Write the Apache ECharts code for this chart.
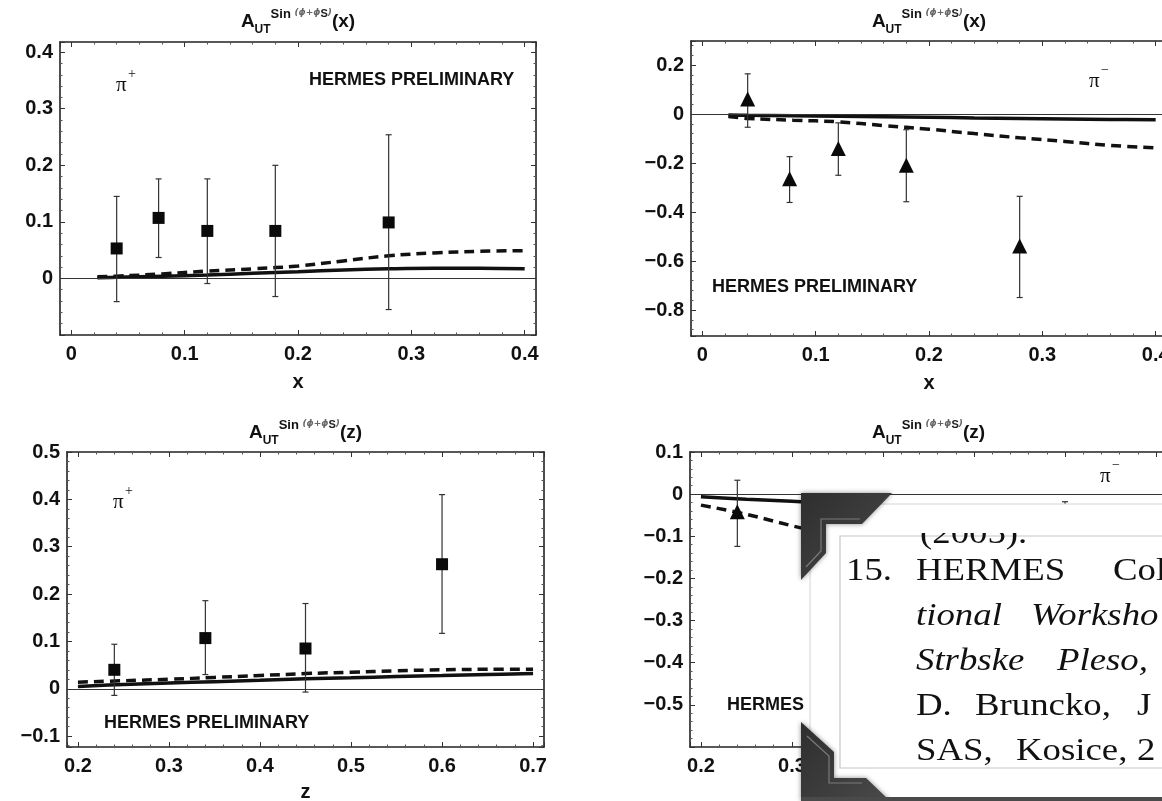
<!DOCTYPE html>
<html>
<head>
<meta charset="utf-8">
<title>A_UT sin(phi+phi_S) - HERMES preliminary</title>
<style>
    html, body { margin: 0; padding: 0; background: #fff; }
    #page { width: 1162px; height: 801px; }
</style>
</head>
<body>
<div id="page"></div>
<script src="https://cdn.jsdelivr.net/npm/echarts@6/dist/echarts.min.js"></script>
<script>
// ---- data ----
// measured points, x dependence
var xPts = [0.04, 0.077, 0.12, 0.18, 0.28];
var piPlusX = [0.053, 0.107, 0.084, 0.084, 0.099];
var piPlusXLo = [-0.041, 0.037, -0.009, -0.032, -0.055];
var piPlusXHi = [0.145, 0.176, 0.176, 0.2, 0.254];
var piMinusX = [0.061, -0.264, -0.141, -0.209, -0.539];
var piMinusXLo = [-0.054, -0.361, -0.25, -0.358, -0.749];
var piMinusXHi = [0.164, -0.174, -0.036, -0.064, -0.336];

// measured points, z dependence (pi- points after the first sit behind the popup)
var zPts = [0.24, 0.34, 0.45, 0.6];
var piPlusZ = [0.04, 0.107, 0.085, 0.263];
var piPlusZLo = [-0.014, 0.03, -0.007, 0.117];
var piPlusZHi = [0.094, 0.186, 0.18, 0.41];
var piMinusZ = [-0.042, -0.1, -0.12, -0.2];
var piMinusZLo = [-0.124, -0.16, -0.19, -0.38];
var piMinusZHi = [0.033, -0.04, -0.05, -0.018];

// model curves
var curveX = [0.023, 0.04, 0.08, 0.12, 0.16, 0.2, 0.24, 0.28, 0.32, 0.36, 0.4];
var plusXSolid = [0.001, 0.002, 0.004, 0.006, 0.009, 0.012, 0.015, 0.017, 0.018, 0.018, 0.017];
var plusXDashed = [0.003, 0.004, 0.008, 0.013, 0.017, 0.022, 0.031, 0.04, 0.045, 0.048, 0.049];
var minusXSolid = [-0.004, -0.005, -0.007, -0.009, -0.011, -0.013, -0.016, -0.018, -0.02, -0.022, -0.023];
var minusXDashed = [-0.01, -0.018, -0.025, -0.032, -0.047, -0.062, -0.08, -0.097, -0.112, -0.128, -0.138];

var curveZ = [0.2, 0.25, 0.3, 0.35, 0.4, 0.45, 0.5, 0.55, 0.6, 0.65, 0.7];
var plusZSolid = [0.005, 0.009, 0.012, 0.015, 0.018, 0.021, 0.023, 0.026, 0.028, 0.03, 0.032];
var plusZDashed = [0.014, 0.017, 0.02, 0.024, 0.028, 0.032, 0.035, 0.038, 0.04, 0.041, 0.041];
// only the part left of the popup is visible
var curveZMinus = [0.2, 0.25, 0.3, 0.33];
var minusZSolid = [-0.006, -0.012, -0.017, -0.02];
var minusZDashed = [-0.026, -0.048, -0.075, -0.09];

var prelim = 'HERMES PRELIMINARY';
var popupLines = [
    {text: '(2005).', x: 920, base: 546, italic: false},
    {text: '15.', x: 846, base: 583, italic: false},
    {text: 'HERMES', x: 916, base: 583, italic: false},
    {text: 'Col', x: 1113, base: 583, italic: false},
    {text: 'tional', x: 916, base: 628, italic: true},
    {text: 'Worksho', x: 1031, base: 628, italic: true},
    {text: 'Strbske', x: 916, base: 673, italic: true},
    {text: 'Pleso,', x: 1057, base: 673, italic: true},
    {text: 'D.', x: 916, base: 718, italic: false},
    {text: 'Bruncko,', x: 975, base: 718, italic: false},
    {text: 'J', x: 1137, base: 718, italic: false},
    {text: 'SAS,', x: 916, base: 763, italic: false},
    {text: 'Kosice,', x: 1016, base: 763, italic: false},
    {text: '2', x: 1137, base: 763, italic: false}
];

(function () {
    var SANS = 'Liberation Sans';
    var SERIF = 'Liberation Serif';
    var grids = [], xAxes = [], yAxes = [], series = [], titles = [], graphics = [];

    function tickLabel(v) {
        if (Math.abs(v * 10 - Math.round(v * 10)) > 1e-6) return '';
        var r = Math.round(v * 10) / 10;
        return String(r).replace('-', '\u2212');
    }

    function makeAxis(g, pos, range, labels, hideMin, name, nameGap) {
        var isX = pos === 'bottom' || pos === 'top';
        return {
            type: 'value', gridIndex: g, position: pos,
            min: range[0], max: range[1], splitNumber: 5,
            axisLine: {show: true, onZero: false, lineStyle: {color: '#222', width: 1.6}},
            axisTick: {show: true, inside: true, length: 5, lineStyle: {color: '#333', width: 1}},
            minorTick: {show: true, splitNumber: 5, length: 2.5, lineStyle: {color: '#555', width: 1}},
            splitLine: {show: false},
            minorSplitLine: {show: false},
            axisLabel: {
                show: labels, margin: isX ? 9 : 7,
                fontFamily: SANS, fontWeight: 'bold', fontSize: 20, color: '#111',
                formatter: function (v) {
                    if (hideMin && Math.abs(v - range[0]) < 1e-9) return '';
                    return tickLabel(v);
                }
            },
            name: name || '',
            nameLocation: 'middle',
            nameGap: nameGap || 30,
            nameTextStyle: {fontFamily: SANS, fontWeight: 'bold', fontSize: 20, color: '#111'}
        };
    }

    function curve(xi, yi, xs, ys, dashed) {
        var s = {
            type: 'line', xAxisIndex: xi, yAxisIndex: yi,
            data: xs.map(function (x, i) { return [x, ys[i]]; }),
            smooth: 0.4, showSymbol: false, symbol: 'none', z: 2,
            lineStyle: {color: '#111', width: 3.5, type: dashed ? [10, 6] : 'solid'}
        };
        if (!dashed) {
            // the thin y = 0 line across the frame
            s.markLine = {
                silent: true, symbol: ['none', 'none'], label: {show: false},
                lineStyle: {color: '#333', width: 1, type: 'solid'},
                data: [{yAxis: 0}]
            };
        }
        return s;
    }

    function errorBars(xi, yi, xs, lo, hi) {
        return {
            type: 'custom', xAxisIndex: xi, yAxisIndex: yi, z: 3,
            data: xs.map(function (x, i) { return [x, lo[i], hi[i]]; }),
            renderItem: function (params, api) {
                var x = api.value(0);
                var a = api.coord([x, api.value(1)]);
                var b = api.coord([x, api.value(2)]);
                var c = 3;
                var st = {stroke: '#333', lineWidth: 1.2};
                return {
                    type: 'group', children: [
                        {type: 'line', shape: {x1: a[0], y1: a[1], x2: b[0], y2: b[1]}, style: st},
                        {type: 'line', shape: {x1: a[0] - c, y1: a[1], x2: a[0] + c, y2: a[1]}, style: st},
                        {type: 'line', shape: {x1: b[0] - c, y1: b[1], x2: b[0] + c, y2: b[1]}, style: st}
                    ]
                };
            }
        };
    }

    function points(xi, yi, xs, ys, symbol) {
        return {
            type: 'scatter', xAxisIndex: xi, yAxisIndex: yi, z: 4,
            data: xs.map(function (x, i) { return [x, ys[i]]; }),
            symbol: symbol, symbolSize: symbol === 'rect' ? 12 : 15,
            itemStyle: {color: '#0a0a0a', opacity: 1}
        };
    }

    function text(x, y, str, font, extra) {
        var el = {
            type: 'text', x: x, y: y, z: 10,
            style: {
                text: str, font: font, fill: '#111',
                align: 'left', verticalAlign: 'middle',
                textAlign: 'left', textVerticalAlign: 'middle'
            }
        };
        if (extra) for (var k in extra) el[k] = extra[k];
        return el;
    }

    var titleRich = {
        a: {fontFamily: SANS, fontWeight: 'bold', fontSize: 19, color: '#111', lineHeight: 28, verticalAlign: 'middle'},
        ut: {fontFamily: SANS, fontWeight: 'bold', fontSize: 12, color: '#111', lineHeight: 14, verticalAlign: 'bottom'},
        sin: {fontFamily: SANS, fontWeight: 'bold', fontSize: 13, color: '#111', lineHeight: 14, verticalAlign: 'top'},
        phi: {fontFamily: 'DejaVu Sans', fontStyle: 'italic', fontSize: 9, color: '#666', lineHeight: 14, verticalAlign: 'top'},
        s: {fontFamily: SANS, fontWeight: 'bold', fontSize: 11, color: '#222', lineHeight: 16, verticalAlign: 'top'}
    };

    function addPanel(p) {
        var g = grids.length;
        grids.push({left: p.box[0], top: p.box[1], width: p.box[2], height: p.box[3],
            containLabel: false, outerBoundsMode: 'none'});
        var xi = xAxes.length, yi = yAxes.length;
        xAxes.push(makeAxis(g, 'bottom', p.xRange, true, false, p.xName, p.nameGap));
        xAxes.push(makeAxis(g, 'top', p.xRange, false));
        yAxes.push(makeAxis(g, 'left', p.yRange, true, p.hideMinY));
        yAxes.push(makeAxis(g, 'right', p.yRange, false));

        series.push(curve(xi, yi, p.cx, p.solid, false));
        series.push(curve(xi, yi, p.cx, p.dashed, true));
        series.push(errorBars(xi, yi, p.px, p.lo, p.hi));
        series.push(points(xi, yi, p.px, p.py, p.symbol));

        titles.push({
            left: p.box[0] + p.box[2] / 2, top: p.titleTop, padding: 0,
            textAlign: 'center', textVerticalAlign: 'top',
            text: '{a|A}{ut|UT}{sin|Sin }{phi|(\u03d5+\u03d5}{s|S}{phi|)}{a|(' + p.xName + ')}',
            textStyle: {rich: titleRich}
        });

        graphics.push(text(p.pi[0] - 6, p.pi[1], '\u03c0', '21px "' + SERIF + '"'));
        graphics.push(text(p.pi[0] + 6, p.pi[1] - 11, p.charge, '14px "' + SERIF + '"'));
        graphics.push(text(p.prelim[0], p.prelim[1], prelim, 'bold 18px "' + SANS + '"'));
    }

    addPanel({
        box: [60, 42, 476, 293], xRange: [-0.01, 0.41], yRange: [-0.1, 0.418], hideMinY: true,
        xName: 'x', nameGap: 37, titleTop: 8,
        cx: curveX, solid: plusXSolid, dashed: plusXDashed,
        px: xPts, py: piPlusX, lo: piPlusXLo, hi: piPlusXHi, symbol: 'rect',
        pi: [122, 85], charge: '+', prelim: [309, 80]
    });
    addPanel({
        box: [691, 41, 476, 295], xRange: [-0.01, 0.41], yRange: [-0.906, 0.298],
        xName: 'x', nameGap: 37, titleTop: 8,
        cx: curveX, solid: minusXSolid, dashed: minusXDashed,
        px: xPts, py: piMinusX, lo: piMinusXLo, hi: piMinusXHi, symbol: 'triangle',
        pi: [1095, 81], charge: '\u2212', prelim: [712, 287]
    });
    addPanel({
        box: [67, 452, 477, 295], xRange: [0.188, 0.712], yRange: [-0.123, 0.5],
        xName: 'z', nameGap: 35, titleTop: 419,
        cx: curveZ, solid: plusZSolid, dashed: plusZDashed,
        px: zPts, py: piPlusZ, lo: piPlusZLo, hi: piPlusZHi, symbol: 'rect',
        pi: [119, 502], charge: '+', prelim: [104, 723]
    });
    addPanel({
        box: [690, 452, 477, 295], xRange: [0.188, 0.712], yRange: [-0.6, 0.1], hideMinY: true,
        xName: 'z', nameGap: 35, titleTop: 419,
        cx: curveZMinus, solid: minusZSolid, dashed: minusZDashed,
        px: zPts, py: piMinusZ, lo: piMinusZLo, hi: piMinusZHi, symbol: 'triangle',
        pi: [1106, 476], charge: '\u2212', prelim: [727, 705]
    });

    // popup window lying over the lower right panel
    graphics.push({type: 'rect', z: 100, shape: {x: 810, y: 504, width: 360, height: 300},
        style: {fill: '#fff', stroke: '#d4d4d4', lineWidth: 1}});
    graphics.push({type: 'rect', z: 101, shape: {x: 840, y: 536, width: 340, height: 232},
        style: {fill: '#fff', stroke: '#c6c6c6', lineWidth: 1.2}});
    popupLines.forEach(function (w) {
        var font = (w.italic ? 'italic ' : '') + '32px "' + SERIF + '"';
        var el = text(w.x, w.base - 11, w.text, font, {scaleX: 1.15});
        el.z = 102;
        graphics.push(el);
    });
    // top of the first line is cut off by the window edge
    graphics.push({type: 'rect', z: 103, shape: {x: 900, y: 506, width: 262, height: 27},
        style: {fill: '#fff'}});

    var frameStyle = {
        fill: {type: 'linear', x: 0, y: 0, x2: 1, y2: 1, colorStops: [
            {offset: 0, color: '#2e2e2e'}, {offset: 1, color: '#4a4a4a'}]},
        shadowBlur: 5, shadowColor: 'rgba(0,0,0,0.45)'
    };
    graphics.push({type: 'polygon', z: 104,
        shape: {points: [[801, 493], [892, 493], [862, 524], [826, 524], [826, 553], [801, 580]]},
        style: frameStyle});
    graphics.push({type: 'polyline', z: 105,
        shape: {points: [[860, 519], [821, 519], [821, 551], [806, 567]]},
        style: {stroke: '#7a7a7a', lineWidth: 1.2, fill: null}});
    graphics.push({type: 'polygon', z: 104,
        shape: {points: [[801, 722], [834, 752], [834, 778], [866, 778], [890, 801], [801, 801]]},
        style: frameStyle});
    graphics.push({type: 'polyline', z: 105,
        shape: {points: [[807, 736], [829, 756], [829, 783], [862, 783]]},
        style: {stroke: '#7a7a7a', lineWidth: 1.2, fill: null}});
    graphics.push({type: 'rect', z: 104, shape: {x: 801, y: 797, width: 361, height: 4},
        style: {fill: '#4a4a4a'}});

    var chart = echarts.init(document.getElementById('page'));
    chart.setOption({
        animation: false,
        backgroundColor: '#fff',
        title: titles,
        grid: grids,
        xAxis: xAxes,
        yAxis: yAxes,
        series: series,
        graphic: {elements: graphics}
    });
})();
</script>
</body>
</html>
